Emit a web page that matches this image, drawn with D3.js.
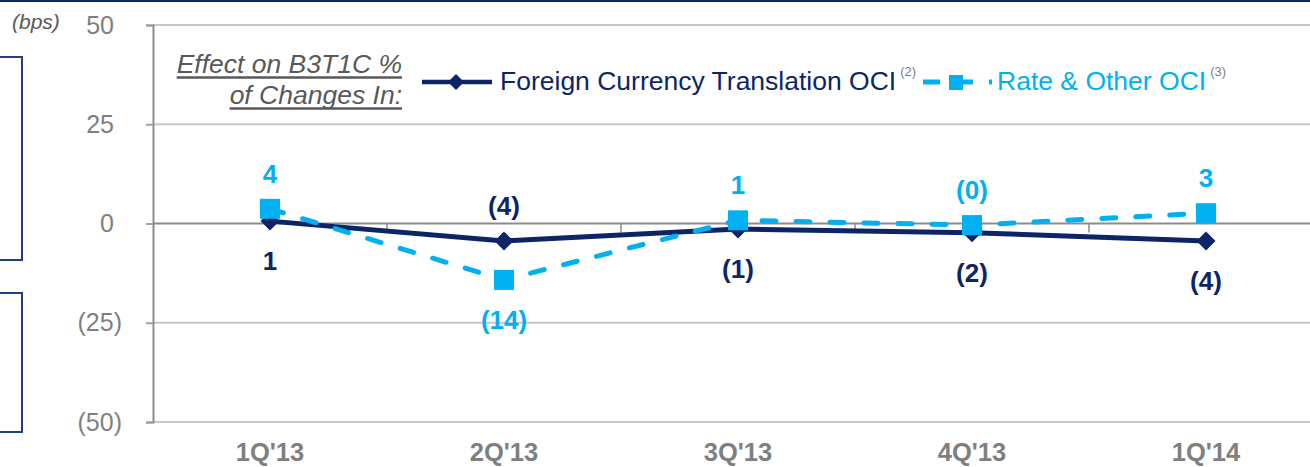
<!DOCTYPE html>
<html>
<head>
<meta charset="utf-8">
<script src="https://cdn.jsdelivr.net/npm/d3@7"></script>
<style>
  html, body { margin: 0; padding: 0; background: #fff; }
  svg { display: block; font-family: Arial, "Liberation Sans", sans-serif; }
</style>
</head>
<body>
<div id="chart"></div>
<script>
const quarters = ["1Q'13", "2Q'13", "3Q'13", "4Q'13", "1Q'14"];
const fxOci = [0.6, -4.4, -1.4, -2.3, -4.4];
const rateOci = [3.7, -14.2, 0.8, -0.4, 2.6];
const yTicks = [-50, -25, 0, 25, 50];
const seriesNames = ["Foreign Currency Translation OCI", "Rate & Other OCI"];
const footnotes = ["(2)", "(3)"];
const legendTitle = ["Effect on B3T1C %", "of Changes In:"];

(function () {
  let W = 1310, H = 467;
  let navy = '#0c2566', sky = '#00b0f0', grey = '#7f7f7f', dark = '#595959';

  let svg = d3.select('#chart').append('svg').attr('width', W).attr('height', H);

  // slide decorations
  svg.append('rect').attr('x', 0).attr('y', 0).attr('width', W).attr('height', 2).attr('fill', '#0b2a6e');
  svg.append('rect').attr('x', -10).attr('y', 57).attr('width', 32).attr('height', 203)
    .attr('fill', 'none').attr('stroke', '#1f3f7f').attr('stroke-width', 2);
  svg.append('rect').attr('x', -10).attr('y', 293).attr('width', 32).attr('height', 139)
    .attr('fill', 'none').attr('stroke', '#1f3f7f').attr('stroke-width', 2);

  svg.append('text').attr('x', 12).attr('y', 29)
    .attr('font-size', 21).attr('font-style', 'italic').attr('fill', dark).text('(bps)');

  let left = 153;
  let x = d3.scaleBand().domain(quarters).range([left, left + 5 * 234]);
  let y = d3.scaleLinear().domain([-50, 50]).range([422, 25]);

  let fmt = (d) => (d < 0 ? `(${Math.abs(Math.round(d))})` : `${Math.round(d)}`);

  // gridlines
  svg.append('g').selectAll('line').data(yTicks.filter((d) => d !== 0)).enter().append('line')
    .attr('x1', left).attr('x2', W).attr('y1', (d) => y(d)).attr('y2', (d) => y(d))
    .attr('stroke', '#c8c8c8').attr('stroke-width', 2);

  // y axis
  let yAxis = svg.append('g').attr('transform', `translate(${left},0)`)
    .call(d3.axisLeft(y).tickValues(yTicks).tickSize(7).tickPadding(24).tickFormat(fmt));
  yAxis.select('.domain').attr('stroke', '#8c8c8c').attr('stroke-width', 2);
  yAxis.selectAll('.tick line').attr('stroke', '#a0a0a0').attr('stroke-width', 2);
  yAxis.selectAll('.tick text').attr('font-size', 25).attr('fill', grey)
    .attr('font-family', 'Arial, "Liberation Sans", sans-serif')
    .attr('dx', (d) => (d >= 0 ? -8 : 0));

  // zero line with category separators
  svg.append('line').attr('x1', left).attr('x2', W).attr('y1', y(0)).attr('y2', y(0))
    .attr('stroke', '#8c8c8c').attr('stroke-width', 2);
  svg.append('g').selectAll('line').data(quarters.slice(1)).enter().append('line')
    .attr('x1', (d) => x(d)).attr('x2', (d) => x(d))
    .attr('y1', y(0)).attr('y2', y(0) + 9)
    .attr('stroke', '#8c8c8c').attr('stroke-width', 1.5);

  // x labels
  let xAxis = svg.append('g').attr('transform', `translate(0,${y(-50)})`)
    .call(d3.axisBottom(x).tickSize(0).tickPadding(21));
  xAxis.select('.domain').remove();
  xAxis.selectAll('.tick text').attr('font-size', 25.5).attr('font-weight', 'bold').attr('fill', grey)
    .attr('font-family', 'Arial, "Liberation Sans", sans-serif');

  let cx = (i) => x(quarters[i]) + x.bandwidth() / 2;
  let diamond = (h) => `M0,${-h}L${h},0L0,${h}L${-h},0Z`;

  // Foreign currency series
  let line = d3.line().x((d, i) => cx(i)).y((d) => y(d));
  svg.append('path').datum(fxOci).attr('d', line)
    .attr('fill', 'none').attr('stroke', navy).attr('stroke-width', 5).attr('stroke-linejoin', 'round');
  svg.append('g').selectAll('path').data(fxOci).enter().append('path')
    .attr('d', diamond(9.5)).attr('fill', navy)
    .attr('transform', (d, i) => `translate(${cx(i)},${y(d)})`);

  // Rate & other series
  svg.append('path').datum(rateOci).attr('d', line)
    .attr('fill', 'none').attr('stroke', sky).attr('stroke-width', 5)
    .attr('stroke-linecap', 'round').attr('stroke-dasharray', '14,20');
  svg.append('g').selectAll('rect').data(rateOci).enter().append('rect')
    .attr('x', (d, i) => cx(i) - 10).attr('y', (d) => y(d) - 10)
    .attr('width', 20).attr('height', 20).attr('fill', sky);

  // data labels: each label sits on the side away from the other series
  let labels = svg.append('g').attr('font-size', 26).attr('font-weight', 'bold').attr('text-anchor', 'middle');
  labels.selectAll('.fx').data(fxOci).enter().append('text').attr('class', 'fx')
    .attr('x', (d, i) => cx(i))
    .attr('y', (d, i) => y(d) + (d < rateOci[i] ? 40 : -35))
    .attr('dy', '0.35em').attr('fill', navy).text(fmt);
  labels.selectAll('.rate').data(rateOci).enter().append('text').attr('class', 'rate')
    .attr('x', (d, i) => cx(i))
    .attr('y', (d, i) => y(d) + (d > fxOci[i] ? -35 : 40))
    .attr('dy', '0.35em').attr('fill', sky).text(fmt);

  // legend title, underlined
  let title = svg.append('g').attr('font-size', 26.5).attr('font-style', 'italic').attr('fill', dark);
  legendTitle.forEach((t, i) => {
    let by = 73 + i * 31;
    let txt = title.append('text').attr('x', 402).attr('y', by).attr('text-anchor', 'end').text(t);
    let len = txt.node().getComputedTextLength();
    title.append('line').attr('x1', 402 - len).attr('x2', 402).attr('y1', by + 4.5).attr('y2', by + 4.5)
      .attr('stroke', dark).attr('stroke-width', 2.5);
  });

  // legend items
  let lg = svg.append('g');
  lg.append('line').attr('x1', 422).attr('x2', 492).attr('y1', 82).attr('y2', 82)
    .attr('stroke', navy).attr('stroke-width', 4.5);
  lg.append('path').attr('d', 'M0,-8L8,0L0,8L-8,0Z').attr('fill', navy).attr('transform', 'translate(456,82)');
  let t1 = lg.append('text').attr('x', 500).attr('y', 90).attr('font-size', 26.5).attr('fill', navy).text(seriesNames[0]);
  let e1 = 500 + t1.node().getComputedTextLength();
  lg.append('text').attr('x', e1 + 4).attr('y', 76).attr('font-size', 13).attr('fill', grey).text(footnotes[0]);

  lg.append('line').attr('x1', 923).attr('x2', 992).attr('y1', 82).attr('y2', 82)
    .attr('stroke', sky).attr('stroke-width', 5).attr('stroke-dasharray', '17,16');
  lg.append('rect').attr('x', 949).attr('y', 75).attr('width', 14).attr('height', 15).attr('fill', sky);
  let t2 = lg.append('text').attr('x', 997).attr('y', 90).attr('font-size', 26.5).attr('fill', sky).text(seriesNames[1]);
  let e2 = 997 + t2.node().getComputedTextLength();
  lg.append('text').attr('x', e2 + 4).attr('y', 76).attr('font-size', 13).attr('fill', grey).text(footnotes[1]);
})();
</script>
</body>
</html>
